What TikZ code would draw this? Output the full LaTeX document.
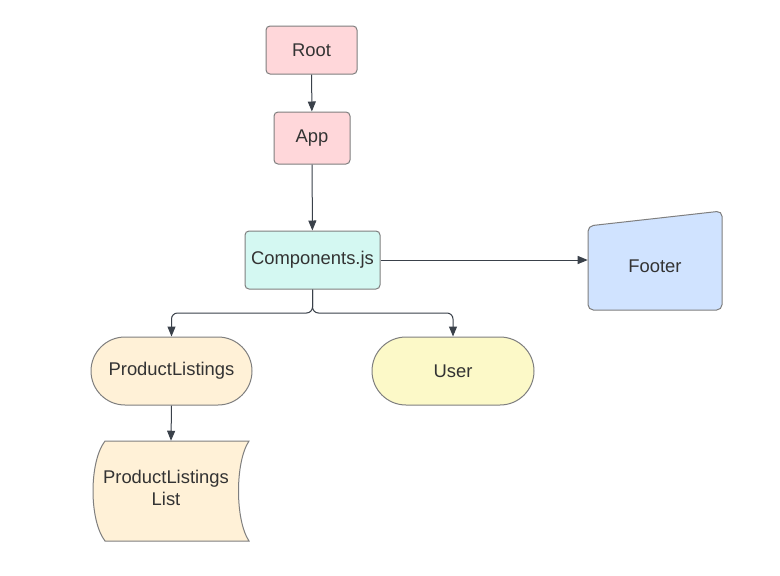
\documentclass[tikz,border=0pt]{standalone}
\usepackage{fontspec}
\setmainfont{Liberation Sans}
\usetikzlibrary{arrows.meta,shapes.misc}
\definecolor{txt}{HTML}{333333}
\definecolor{bord}{HTML}{7F7F7F}
\definecolor{ln}{HTML}{3A414A}
\definecolor{pinkf}{HTML}{FFD7DA}
\definecolor{cyanf}{HTML}{D4F8F2}
\definecolor{bluef}{HTML}{D0E3FF}
\definecolor{peachf}{HTML}{FFF1D7}
\definecolor{yelf}{HTML}{FCF9C8}
\tikzset{
  box/.style={draw=bord, line width=0.75pt, rounded corners=3pt, text=txt, font=\fontsize{13.8}{16.5}\selectfont, inner sep=0pt},
  pill/.style={draw=bord, line width=0.75pt, rounded rectangle, text=txt, font=\fontsize{13.8}{16.5}\selectfont, inner sep=0pt},
  ghost/.style={text=txt, font=\fontsize{13.8}{16.5}\selectfont, inner sep=0pt, align=center},
  outline/.style={draw=bord, line width=0.75pt},
  arr/.style={draw=ln, line width=0.75pt, -{Triangle[length=7.5pt,width=6pt]}}
}
\begin{document}
\begin{tikzpicture}[x=0.75pt,y=-0.75pt]
\useasboundingbox[fill=white] (0,0) rectangle (780,575);
\node[box, fill=pinkf, minimum width=68.25pt, minimum height=36pt] (root) at (311.5,50) {Root};
\node[box, fill=pinkf, minimum width=57pt, minimum height=39pt] (app) at (312,138) {App};
\node[box, fill=cyanf, minimum width=101.25pt, minimum height=43.5pt] (comp) at (312.5,260) {Components.js};
% Footer
\draw[outline, fill=bluef, rounded corners=4pt] (588,226) -- (722,211) -- (722,310) -- (588,310) -- cycle;
\node[ghost, minimum width=100.5pt, minimum height=75pt] (footer) at (655,266) {Footer};
\node[pill, fill=peachf, minimum width=120.75pt, minimum height=51pt] (pl) at (171.5,371) {ProductListings};
\node[pill, fill=yelf, minimum width=121.5pt, minimum height=51pt] (user) at (453,371) {User};
% ProductListings List (stored data)
\draw[outline, fill=peachf] (105,441) -- (249,441) .. controls (235,462) and (235,520) .. (249,541) -- (105,541) .. controls (89,520) and (89,462) .. cycle;
\node[ghost, minimum width=108pt, minimum height=75pt] (pll) at (171,491) {};
\node[ghost] (plltext) at (166,488) {ProductListings\\List};
% connectors
\draw[arr] (root) -- (app);
\draw[arr] (app) -- (comp);
\draw[arr] (comp.east) -- (footer.west |- comp.east);
\coordinate (br) at (312.5,313);
\draw[arr, rounded corners=4.5pt] (comp.south) -- (br) -| (pl.north);
\draw[arr, rounded corners=4.5pt] (comp.south) -- (br) -| (user.north);
\draw[arr] (pl.south) -- (pll.north);
\end{tikzpicture}
\end{document}
